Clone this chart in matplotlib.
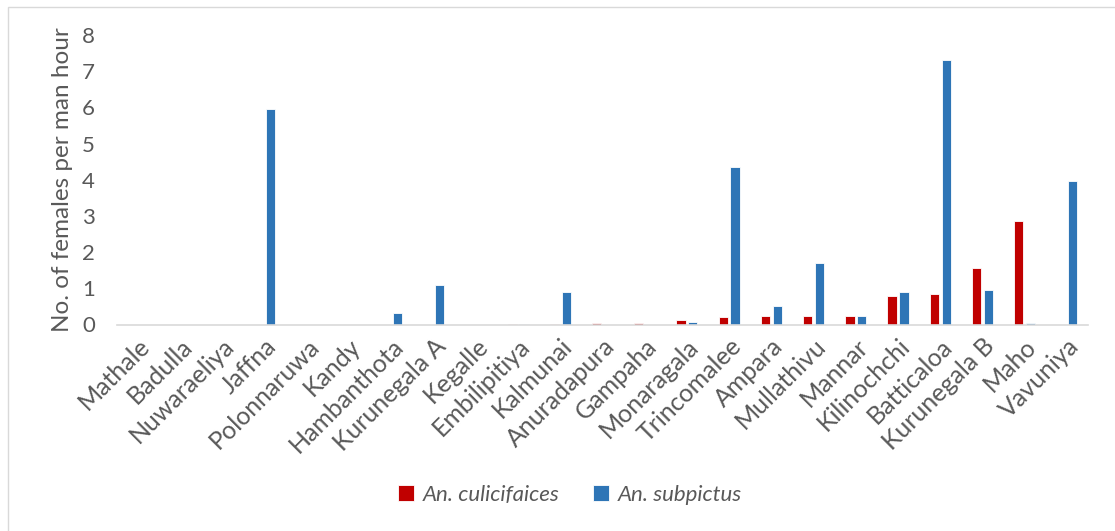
import numpy as np
import matplotlib.pyplot as plt
from matplotlib.patches import Rectangle

districts = ["Mathale", "Badulla", "Nuwaraeliya", "Jaffna", "Polonnaruwa", "Kandy",
             "Hambanthota", "Kurunegala A", "Kegalle", "Embilipitiya", "Kalmunai",
             "Anuradapura", "Gampaha", "Monaragala", "Trincomalee", "Ampara",
             "Mullathivu", "Mannar", "Kilinochchi", "Batticaloa", "Kurunegala B",
             "Maho", "Vavuniya"]

culicifacies = [0, 0, 0, 0, 0, 0, 0, 0, 0, 0.01, 0.02, 0.04, 0.05, 0.12, 0.21,
                0.23, 0.23, 0.23, 0.80, 0.85, 1.57, 2.86, 0]
subpictus = [0, 0, 0, 5.95, 0, 0, 0.32, 1.09, 0, 0.01, 0.89, 0, 0, 0.07, 4.35,
             0.51, 1.69, 0.23, 0.90, 7.32, 0.95, 0.05, 3.97]

RED = "#C00000"
BLUE = "#2E75B6"
TXT = "#595959"
plt.rcParams['font.family'] = ['Lato', 'DejaVu Sans']

fig = plt.figure(figsize=(11.15, 5.31), dpi=100)
# outer chart frame
fig.patches.append(Rectangle((8 / 1115, -0.1), 1.2, (531 - 7) / 531 + 0.1,
                             transform=fig.transFigure, fill=False,
                             edgecolor="#d9d9d9", linewidth=1.0))

ax = fig.add_axes([117 / 1115, 206.5 / 531, (1088 - 117) / 1115, (324.5 - 35) / 531])

x = np.arange(len(districts))
w = 0.22
off = 0.14
ax.bar(x - off, culicifacies, w, color=RED, edgecolor="white", linewidth=0.6,
       label="An. culicifaices")
ax.bar(x + off, subpictus, w, color=BLUE, edgecolor="white", linewidth=0.6,
       label="An. subpictus")

ax.set_xlim(-0.5, len(districts) - 0.5)
ax.set_ylim(0, 8)
ax.set_yticks(range(0, 9))
ax.tick_params(axis="y", length=0, labelsize=16, labelcolor=TXT, pad=16)
ax.tick_params(axis="x", length=0, pad=7)
ax.set_xticks(x)
ax.set_xticklabels(districts, rotation=45, ha="right", va="top",
                   rotation_mode="anchor", fontsize=18, color=TXT)

for s in ["top", "right", "left"]:
    ax.spines[s].set_visible(False)
ax.spines["bottom"].set_color("#d9d9d9")
ax.spines["bottom"].set_linewidth(1.2)

ax.set_ylabel("No. of females per man hour", fontsize=17.5, color=TXT, labelpad=6)

leg = fig.legend(loc="center", bbox_to_anchor=(570 / 1115, 1 - 495 / 531), ncol=2,
                 frameon=False, prop={"style": "italic", "size": 16},
                 handlelength=0.7, handleheight=0.7, handletextpad=0.4,
                 columnspacing=1.5)
for t in leg.get_texts():
    t.set_color(TXT)

fig.savefig("out.png", dpi=100)
